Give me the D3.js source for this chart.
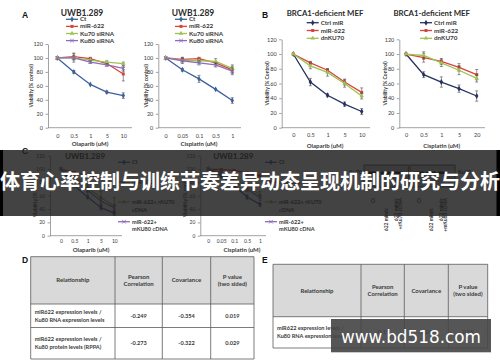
<!DOCTYPE html>
<html>
<head>
<meta charset="utf-8">
<script src="https://cdn.jsdelivr.net/npm/d3@7"></script>
<style>
  body { margin: 0; background: #fff; }
  svg { display: block; font-family: Lato, "Open Sans", sans-serif; }
</style>
</head>
<body>
<svg id="fig" width="500" height="362"></svg>
<script>
// ---- data ----
const olaparibDoses = ["0", "0.5", "1", "5", "10"];
const cisplatinDosesUwb = ["0", "0.05", "0.1", "0.5", "1"];
const cisplatinDosesMef = ["0", "0.5", "1", "5", "20"];
const viabilityTicks = [0, 20, 40, 60, 80, 100, 120];

// A: UWB1.289
const aSeriesNames = ["Ct", "miR-622", "Ku70 siRNA", "Ku80 siRNA"];
const aOlaparib = [
  [100, 80, 62, 51, 46],
  [100, 102, 99, 92, 77],
  [100, 100, 97, 94, 92],
  [100, 100, 94, 90, 85],
];
const aOlaparibErr = [
  [1, 2, 1, 1.5, 4],
  [2, 5, 2, 2, 10],
  [1, 2, 2, 2, 2],
  [1, 6, 2, 2, 4],
];
const aCisplatin = [
  [100, 83, 70, 55, 39],
  [100, 98, 99, 93, 83],
  [100, 97, 96, 95, 85],
  [100, 96, 93, 90, 81],
];
const aCisplatinErr = [
  [1, 2, 5, 1, 4],
  [1, 3, 2, 2, 5],
  [1, 3, 3, 4, 5],
  [1, 4, 3, 3, 5],
];

// B: BRCA1-deficient MEF
const bSeriesNames = ["Ctrl miR", "miR-622", "dnKU70"];
const bOlaparib = [
  [100, 62, 44, 32, 22],
  [100, 88, 78, 62, 48],
  [100, 84, 75, 60, 43],
];
const bOlaparibErr = [
  [1, 5, 2, 3, 4],
  [1, 2, 2, 4, 6],
  [1, 4, 5, 5, 4],
];
const bCisplatin = [
  [100, 72, 62, 53, 43],
  [100, 95, 90, 82, 72],
  [100, 98, 88, 78, 67],
];
const bCisplatinErr = [
  [1, 4, 7, 5, 7],
  [1, 6, 4, 5, 7],
  [1, 5, 5, 6, 5],
];

// C: UWB1.289 rescue
const cSeriesNames = [["Ct"], ["miR-622"], ["miR-622+ rKU70", "cDNA"], ["miR-622+", "mKU80 cDNA"]];
const cOlaparib = [
  [100, 75, 58, 42, 34],
  [100, 95, 90, 87, 85],
  [100, 88, 72, 57, 45],
  [100, 86, 68, 52, 42],
];
const cOlaparibErr = [
  [1, 2, 2, 3, 3],
  [1, 1, 1, 1, 1],
  [1, 4, 6, 10, 12],
  [1, 3, 4, 6, 5],
];
const cCisplatin = [
  [100, 90, 75, 58, 47],
  [100, 99, 98, 94, 90],
  [100, 95, 85, 75, 61],
  [100, 93, 82, 70, 57],
];
const cCisplatinErr = [
  [1, 2, 3, 3, 3],
  [1, 2, 1, 1, 1],
  [1, 3, 3, 4, 5],
  [1, 3, 3, 4, 4],
];

// blots
const blotLanesKu70 = [["Ct"], ["622 mimic"], ["622 mimic", "+rKu70 cDNA"]];
const blotLanesKu80 = [["Ct"], ["622 mimic"], ["622 mimic", "+mKu80 cDNA"]];

// D / E tables
const tableHeaders = [["Relationship"], ["Pearson", "Correlation"], ["Covariance"], ["P value", "(two sided)"]];
const dRelationships = [
  ["miR622 expression levels /", "Ku80 RNA expression levels"],
  ["miR622 expression levels /", "Ku80 protein levels (RPPA)"],
];
const dPearson = ["-0.249", "-0.273"];
const dCovariance = ["-0.354", "-0.322"];
const dPValue = ["0.019", "0.029"];
const eRelationships = [["miR622 expression levels /", "Ku80 RNA expression levels"]];
const ePearson = ["-0.15"];
const eCovariance = ["-0.207"];
const ePValue = ["0.05"];

const bannerText = "体育心率控制与训练节奏差异动态呈现机制的研究与分析";
const watermarkText = "www.bd518.com";

// ---- styling ----
const COLORS = {
  blue: "#3d619c",
  navy: "#25325f",
  red: "#d8443c",
  green: "#9dc352",
  purple: "#8d6cbc",
};
const axisColor = "#8a8a8a";
const textColor = "#3a3a3a";

const svg = d3.select("#fig");

function markerFor(shape) {
  switch (shape) {
    case "diamond": return { type: d3.symbolDiamond, size: 10, stroke: false };
    case "square": return { type: d3.symbolSquare, size: 9, stroke: false };
    case "triangle": return { type: d3.symbolTriangle, size: 9, stroke: false };
    case "times": return { type: d3.symbolTimes || d3.symbolCross, size: 10, stroke: true };
  }
}

/**
 * Draws one viability line chart (Excel-like).
 */
function drawChart(c) {
  const g = svg.append("g");
  const x = d3.scalePoint().domain(c.doses).range([c.px0, c.px1]);
  const y = d3.scaleLinear().domain([0, 120]).range([c.yB, c.yT]);

  // y axis
  const ya = g.append("g")
    .attr("transform", `translate(${c.x0},0)`)
    .call(d3.axisLeft(y).tickValues(viabilityTicks).tickSize(2.5).tickSizeOuter(0).tickPadding(2.5));
  ya.attr("font-family", null).attr("font-size", null);
  ya.select(".domain").attr("stroke", axisColor).attr("stroke-width", 0.8);
  ya.selectAll(".tick line").attr("stroke", axisColor).attr("stroke-width", 0.8);
  ya.selectAll(".tick text").attr("fill", textColor).style("font-size", c.tickFont + "px");

  // x axis
  g.append("line")
    .attr("x1", c.x0).attr("x2", c.x1)
    .attr("y1", c.yB).attr("y2", c.yB)
    .attr("stroke", axisColor).attr("stroke-width", 0.8);
  const xa = g.append("g")
    .attr("transform", `translate(0,${c.yB})`)
    .call(d3.axisBottom(x).tickSize(0).tickPadding(c.xPad));
  xa.attr("font-family", null).attr("font-size", null);
  xa.select(".domain").remove();
  xa.selectAll(".tick text").attr("fill", textColor).style("font-size", c.tickFont + "px");

  // axis titles
  g.append("text")
    .attr("x", c.xTitleX).attr("y", c.xTitleY)
    .attr("text-anchor", "middle")
    .attr("font-weight", "bold")
    .attr("fill", textColor)
    .style("font-size", "6px")
    .text(c.xTitle);
  g.append("text")
    .attr("transform", `translate(${c.yTitleX},${(c.yB + c.yT) / 2})rotate(-90)`)
    .attr("text-anchor", "middle")
    .attr("font-weight", "bold")
    .attr("fill", textColor)
    .style("font-size", "5px")
    .text(c.yTitle);

  // chart title
  g.append("text")
    .attr("x", c.titleX).attr("y", c.titleY)
    .attr("text-anchor", "middle")
    .attr("font-weight", "bold")
    .attr("fill", "#2b2b2b")
    .style("font-size", c.titleFont + "px")
    .text(c.title);

  // series
  const line = d3.line().x((p) => x(p.dose)).y((p) => y(p.v));
  c.series.forEach((s) => {
    const pts = c.doses.map((dose, i) => ({ dose, v: s.values[i], e: s.errors[i] }));
    g.append("path")
      .datum(pts)
      .attr("d", line)
      .attr("fill", "none")
      .attr("stroke", s.color)
      .attr("stroke-width", 1.3);

    const eb = g.append("g").attr("stroke", "#4a4a4a").attr("stroke-width", 0.6);
    pts.filter((p) => p.e > 1.2).forEach((p) => {
      const cx = x(p.dose);
      eb.append("line").attr("x1", cx).attr("x2", cx).attr("y1", y(p.v - p.e)).attr("y2", y(p.v + p.e));
      [p.v - p.e, p.v + p.e].forEach((v) => {
        eb.append("line").attr("x1", cx - 1.5).attr("x2", cx + 1.5).attr("y1", y(v)).attr("y2", y(v));
      });
    });

    const m = markerFor(s.shape);
    g.append("g")
      .selectAll("path")
      .data(pts)
      .join("path")
      .attr("transform", (p) => `translate(${x(p.dose)},${y(p.v)})`)
      .attr("d", d3.symbol().type(m.type).size(m.size))
      .attr("fill", m.stroke ? "none" : s.color)
      .attr("stroke", m.stroke ? s.color : "none")
      .attr("stroke-width", 0.9);
  });

  // legend
  const lg = g.append("g");
  c.series.forEach((s, i) => {
    const ly = c.legY + i * c.legStep;
    lg.append("line")
      .attr("x1", c.legX).attr("x2", c.legX + 12)
      .attr("y1", ly).attr("y2", ly)
      .attr("stroke", s.color).attr("stroke-width", 1.3);
    const m = markerFor(s.shape);
    lg.append("path")
      .attr("transform", `translate(${c.legX + 6},${ly})`)
      .attr("d", d3.symbol().type(m.type).size(m.size))
      .attr("fill", m.stroke ? "none" : s.color)
      .attr("stroke", m.stroke ? s.color : "none")
      .attr("stroke-width", 0.9);
    const t = lg.append("text")
      .attr("x", c.legX + 14).attr("y", ly + 2)
      .attr("font-weight", "bold")
      .attr("fill", textColor)
      .style("font-size", c.legFont + "px");
    const names = Array.isArray(s.name) ? s.name : [s.name];
    names.forEach((n, k) => {
      t.append("tspan").attr("x", c.legX + 14).attr("dy", k === 0 ? 0 : 7.6).text(n);
    });
  });
}

function buildSeries(names, values, errors, colors, shapes) {
  return names.map((name, i) => ({
    name, values: values[i], errors: errors[i], color: colors[i], shape: shapes[i],
  }));
}

const aColors = [COLORS.blue, COLORS.red, COLORS.green, COLORS.purple];
const aShapes = ["diamond", "square", "triangle", "times"];
const bColors = [COLORS.navy, COLORS.red, COLORS.green];
const bShapes = ["diamond", "square", "triangle"];

const viaLower = "Viability (% control)";
const viaUpper = "Viability (% Control)";

// Panel A
drawChart({
  doses: olaparibDoses, series: buildSeries(aSeriesNames, aOlaparib, aOlaparibErr, aColors, aShapes),
  x0: 48, x1: 132, px0: 57.3, px1: 123.3, yT: 44, yB: 127.7, xPad: 6, tickFont: 5.5,
  title: "UWB1.289", titleX: 82, titleY: 16, titleFont: 8.5,
  xTitle: "Olaparib (uM)", xTitleX: 90, xTitleY: 145.5, yTitle: viaLower, yTitleX: 33,
  legX: 66, legY: 19.3, legStep: 7.1, legFont: 6.3,
});
drawChart({
  doses: cisplatinDosesUwb, series: buildSeries(aSeriesNames, aCisplatin, aCisplatinErr, aColors, aShapes),
  x0: 158.3, x1: 241, px0: 165.7, px1: 232.3, yT: 44, yB: 127.7, xPad: 6, tickFont: 5.5,
  title: "UWB1.289", titleX: 193, titleY: 16, titleFont: 8.5,
  xTitle: "Cisplatin (uM)", xTitleX: 199, xTitleY: 145.5, yTitle: viaLower, yTitleX: 147.5,
  legX: 175, legY: 19.3, legStep: 7.1, legFont: 6.3,
});

// Panel B
drawChart({
  doses: olaparibDoses, series: buildSeries(bSeriesNames, bOlaparib, bOlaparibErr, bColors, bShapes),
  x0: 281.7, x1: 370, px0: 293.3, px1: 361.7, yT: 39.3, yB: 127.7, xPad: 5, tickFont: 5.5,
  title: "BRCA1-deficient MEF", titleX: 325, titleY: 16, titleFont: 7.8,
  xTitle: "Olaparib (uM)", xTitleX: 325, xTitleY: 148, yTitle: viaUpper, yTitleX: 269,
  legX: 306.7, legY: 22.7, legStep: 7.8, legFont: 6.3,
});
drawChart({
  doses: cisplatinDosesMef, series: buildSeries(bSeriesNames, bCisplatin, bCisplatinErr, bColors, bShapes),
  x0: 399.3, x1: 485, px0: 406, px1: 476.7, yT: 39.3, yB: 127.7, xPad: 5, tickFont: 5.5,
  title: "BRCA1-deficient MEF", titleX: 431.7, titleY: 16, titleFont: 7.8,
  xTitle: "Cisplatin (uM)", xTitleX: 441.7, xTitleY: 148, yTitle: viaUpper, yTitleX: 387,
  legX: 420, legY: 22.7, legStep: 7.8, legFont: 6.3,
});

// Panel C
drawChart({
  doses: olaparibDoses, series: buildSeries(cSeriesNames, cOlaparib, cOlaparibErr, aColors, aShapes),
  x0: 50, x1: 122, px0: 61, px1: 114.3, yT: 155.7, yB: 235.7, xPad: 3.5, tickFont: 5,
  title: "UWB1.289", titleX: 85, titleY: 158.5, titleFont: 8,
  xTitle: "Olaparib (uM)", xTitleX: 91, xTitleY: 252, yTitle: viaLower, yTitleX: 37,
  legX: 118, legY: 162.3, legStep: 19.8, legFont: 5.6,
});
drawChart({
  doses: cisplatinDosesUwb, series: buildSeries(cSeriesNames, cCisplatin, cCisplatinErr, aColors, aShapes),
  x0: 200.3, x1: 266, px0: 208.3, px1: 260, yT: 155.7, yB: 235.7, xPad: 3.5, tickFont: 5,
  title: "UWB1.289", titleX: 233.3, titleY: 158.5, titleFont: 8,
  xTitle: "Cisplatin (uM)", xTitleX: 242, xTitleY: 252, yTitle: viaLower, yTitleX: 186.5,
  legX: 265, legY: 162.3, legStep: 19.8, legFont: 5.6,
});

// blots
function drawBlot(bx, lanes, label, labelX, laneX) {
  const g = svg.append("g");
  const lx = d3.scalePoint().domain(lanes.map((l, i) => i)).range(laneX);
  g.append("rect").attr("x", bx[0]).attr("y", 165).attr("width", bx[1] - bx[0]).attr("height", 22)
    .attr("fill", "#cfcfcf").attr("stroke", "#333").attr("stroke-width", 0.8);
  lanes.forEach((lane, i) => {
    g.append("rect").attr("x", lx(i) - 5).attr("y", 171.5).attr("width", 10).attr("height", 2.6)
      .attr("rx", 1).attr("fill", "#111");
    const t = g.append("text")
      .attr("transform", `translate(${lx(i) + 2 - (lane.length - 1) * 2.2},${i === 1 ? 208 : 198})rotate(-90)`)
      .attr("text-anchor", "end")
      .attr("font-weight", "bold")
      .attr("fill", textColor)
      .style("font-size", "5px");
    lane.forEach((n, k) => t.append("tspan").attr("x", 0).attr("dy", k === 0 ? 0 : 4.6).text(n));
  });
  g.append("text").attr("x", labelX).attr("y", 174).attr("font-weight", "bold")
    .attr("fill", textColor).style("font-size", "5.5px").text(label);
}
drawBlot([364, 408.3], blotLanesKu70, "Ku70", 349, [373.3, 398]);
drawBlot([410, 455], blotLanesKu80, "Ku80", 458, [419.3, 443]);

// tables
function drawTable(cols, rows, relationships, pearson, cov, pval) {
  const g = svg.append("g");
  const cells = relationships.map((r, i) => [r, [pearson[i]], [cov[i]], [pval[i]]]);
  g.append("rect").attr("x", cols[0]).attr("y", rows[0]).attr("width", cols[4] - cols[0])
    .attr("height", rows[1] - rows[0]).attr("fill", "#d9d9d9");
  // header text
  tableHeaders.forEach((h, j) => {
    const cx = (cols[j] + cols[j + 1]) / 2;
    const cy = (rows[0] + rows[1]) / 2;
    h.forEach((line, k) => {
      g.append("text").attr("x", cx).attr("y", cy + 2 + (k - (h.length - 1) / 2) * 7.6)
        .attr("text-anchor", "middle").attr("font-weight", "bold").attr("fill", "#3a3a3a")
        .style("font-size", "6px").text(line);
    });
  });
  cells.forEach((row, i) => {
    const cy = (rows[i + 1] + rows[i + 2]) / 2;
    row.forEach((cell, j) => {
      cell.forEach((line, k) => {
        g.append("text")
          .attr("x", j === 0 ? cols[0] + 4 : (cols[j] + cols[j + 1]) / 2)
          .attr("y", cy + 2 + (k - (cell.length - 1) / 2) * 8.2)
          .attr("text-anchor", j === 0 ? "start" : "middle")
          .attr("font-weight", "bold").attr("fill", "#3a3a3a")
          .style("font-size", "5.6px").text(line);
      });
    });
  });
  const grid = g.append("g").attr("stroke", "#5a5a5a").attr("stroke-width", 0.8);
  cols.forEach((cx) => grid.append("line").attr("x1", cx).attr("x2", cx).attr("y1", rows[0]).attr("y2", rows[rows.length - 1]));
  rows.forEach((ry) => grid.append("line").attr("x1", cols[0]).attr("x2", cols[4]).attr("y1", ry).attr("y2", ry));
}
drawTable([30.7, 115, 162.3, 210.7, 254], [256.7, 304, 327.5, 359], dRelationships, dPearson, dCovariance, dPValue);
drawTable([273, 361, 404.3, 448.3, 487.7], [264.3, 316.7, 348], eRelationships, ePearson, eCovariance, ePValue);

// panel letters
[["A", 22, 18], ["B", 262, 18], ["C", 22, 154], ["D", 22, 263], ["E", 262, 263]].forEach(([l, lx, ly]) => {
  svg.append("text").attr("x", lx).attr("y", ly).attr("font-weight", "bold")
    .attr("font-family", "Liberation Sans, Arial, sans-serif")
    .attr("fill", "#111").style("font-size", "8.5px").text(l);
});

// overlays: title banner and watermark
svg.append("rect").attr("x", 0).attr("y", 150).attr("width", 500).attr("height", 66)
  .attr("fill", "#1f1f1f").attr("fill-opacity", 0.84);
svg.append("rect").attr("x", 0).attr("y", 150).attr("width", 3).attr("height", 66).attr("fill", "#000");
svg.append("rect").attr("x", 496.5).attr("y", 150).attr("width", 3.5).attr("height", 66).attr("fill", "#000");
svg.append("text").attr("x", 250).attr("y", 189)
  .attr("text-anchor", "middle")
  .attr("font-family", "Noto Sans CJK SC, sans-serif")
  .attr("font-weight", "bold")
  .attr("fill", "#fff")
  .style("font-size", "20px")
  .text(bannerText);

svg.append("rect").attr("x", 331).attr("y", 319).attr("width", 160).attr("height", 33.3)
  .attr("fill", "#444").attr("fill-opacity", 0.9);
svg.append("text").attr("x", 411).attr("y", 342.5)
  .attr("text-anchor", "middle")
  .attr("font-family", "DejaVu Sans, sans-serif")
  .attr("fill", "#fff")
  .attr("textLength", 140)
  .attr("lengthAdjust", "spacingAndGlyphs")
  .style("font-size", "18px")
  .text(watermarkText);
</script>
</body>
</html>
